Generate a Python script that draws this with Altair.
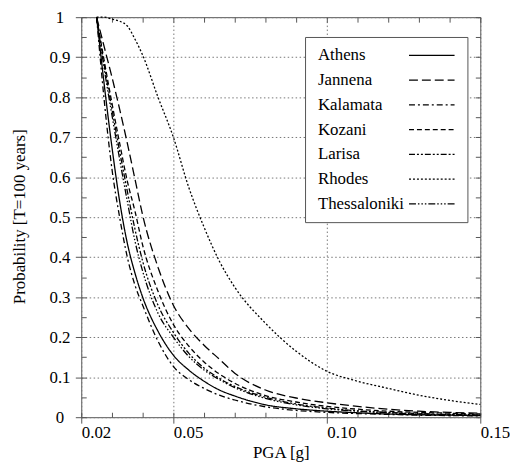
import altair as alt
import pandas as pd

# ---------------- data ----------------
pga = [0.025, 0.0275, 0.03, 0.0325, 0.035, 0.0375, 0.04, 0.045, 0.05, 0.055,
       0.06, 0.065, 0.07, 0.08, 0.09, 0.10, 0.11, 0.12, 0.13, 0.14, 0.15]

athens = [1.0, 0.83, 0.675, 0.54, 0.435, 0.36, 0.30, 0.215, 0.155, 0.118,
          0.090, 0.068, 0.053, 0.031, 0.021, 0.015, 0.011, 0.008, 0.006, 0.005, 0.004]
jannena = [1.0, 0.925, 0.85, 0.77, 0.685, 0.595, 0.505, 0.375, 0.28, 0.222,
           0.18, 0.145, 0.11, 0.068, 0.048, 0.036, 0.027, 0.020, 0.015, 0.012, 0.010]
kalamata = [1.0, 0.79, 0.62, 0.50, 0.40, 0.33, 0.28, 0.19, 0.127, 0.094,
            0.072, 0.055, 0.043, 0.026, 0.017, 0.012, 0.009, 0.007, 0.005, 0.004, 0.003]
kozani = [1.0, 0.89, 0.785, 0.685, 0.59, 0.515, 0.43, 0.315, 0.232, 0.178,
          0.138, 0.108, 0.085, 0.054, 0.038, 0.027, 0.020, 0.015, 0.012, 0.010, 0.008]
larisa = [1.0, 0.88, 0.77, 0.665, 0.565, 0.47, 0.39, 0.28, 0.212, 0.16,
          0.123, 0.097, 0.077, 0.050, 0.033, 0.023, 0.016, 0.012, 0.009, 0.007, 0.006]
rhodes = [1.0, 1.0, 0.995, 0.99, 0.978, 0.945, 0.905, 0.80, 0.70, 0.575,
          0.475, 0.39, 0.325, 0.235, 0.165, 0.115, 0.09, 0.072, 0.055, 0.042, 0.032]
thessaloniki = [1.0, 0.87, 0.755, 0.645, 0.54, 0.44, 0.365, 0.26, 0.20, 0.152,
                0.118, 0.094, 0.074, 0.047, 0.031, 0.021, 0.015, 0.011, 0.008, 0.006, 0.005]

cities = ["Athens", "Jannena", "Kalamata", "Kozani", "Larisa", "Rhodes", "Thessaloniki"]
series = [athens, jannena, kalamata, kozani, larisa, rhodes, thessaloniki]
dashes = [[1, 0], [9, 4], [6, 3, 2, 3], [5, 3], [6, 2, 2, 2, 2, 2], [2, 2],
          [7, 2, 1.5, 2, 1.5, 2, 1.5, 2]]

x_major = [0.02, 0.05, 0.10, 0.15]
x_minor = [0.02, 0.03, 0.04, 0.05, 0.06, 0.07, 0.08, 0.09, 0.10, 0.11, 0.12, 0.13, 0.14, 0.15]
y_major = [0, 0.1, 0.2, 0.3, 0.4, 0.5, 0.6, 0.7, 0.8, 0.9, 1]
y_minor = [0, 0.05, 0.1, 0.15, 0.2, 0.25, 0.3, 0.35, 0.4, 0.45, 0.5, 0.55, 0.6,
           0.65, 0.7, 0.75, 0.8, 0.85, 0.9, 0.95, 1]

rows = []
for c, vals in zip(cities, series):
    for x, p in zip(pga, vals):
        rows.append({"city": c, "pga": x, "prob": p})
df = pd.DataFrame(rows)

FONT = "Liberation Serif, Times New Roman, Times, DejaVu Serif, serif"
xscale = alt.Scale(domain=[0.02, 0.15], nice=False, zero=False)
yscale = alt.Scale(domain=[0, 1], nice=False)

base = alt.Chart(df)

lines = base.mark_line(color="black", strokeWidth=1.3, interpolate="monotone").encode(
    x=alt.X("pga:Q", scale=xscale,
            axis=alt.Axis(orient="bottom", values=x_major, format=".2f", title="PGA [g]",
                          grid=True, gridDash=[1.5, 2.5], gridColor="#777", gridWidth=1,
                          ticks=True, tickSize=6, domain=False, labelAlign="left",
                          labelPadding=2, titlePadding=4, labelFlush=False)),
    y=alt.Y("prob:Q", scale=yscale,
            axis=alt.Axis(orient="left", values=y_major, format=".1~f",
                          title="Probability [T=100 years]",
                          grid=True, gridDash=[1.5, 2.5], gridColor="#777", gridWidth=1,
                          ticks=True, tickSize=6, domain=False, labelAlign="center",
                          labelPadding=16, titleX=-53, titleY=201)),
    strokeDash=alt.StrokeDash(
        "city:N", scale=alt.Scale(domain=cities, range=dashes),
        legend=alt.Legend(title=None, orient="none", legendX=226, legendY=20,
                          direction="vertical", symbolType="M14.36,0H20.93", symbolSize=196,
                          symbolStrokeWidth=1.3, symbolStrokeColor="black",
                          symbolOffset=-14, labelOffset=0, labelFont=FONT,
                          labelFontSize=17, labelColor="black", labelLimit=300,
                          rowPadding=7, padding=10, strokeColor="#555",
                          fillColor="white")),
)

minor_axis = dict(labels=False, domain=False, grid=False, title=None, ticks=True,
                  tickSize=5, offset=-5, tickColor="#555")

ticks_a = base.mark_point(opacity=0).encode(
    x=alt.X("pga:Q", scale=xscale, axis=alt.Axis(orient="bottom", values=x_minor, **minor_axis)),
    y=alt.Y("prob:Q", scale=yscale, axis=alt.Axis(orient="left", values=y_minor, **minor_axis)),
)
ticks_b = base.mark_point(opacity=0).encode(
    x=alt.X("pga:Q", scale=xscale, axis=alt.Axis(orient="top", values=x_minor, **minor_axis)),
    y=alt.Y("prob:Q", scale=yscale, axis=alt.Axis(orient="right", values=y_minor, **minor_axis)),
)

chart = alt.layer(lines, ticks_a, ticks_b).resolve_axis(
    x="independent", y="independent"
).properties(
    width=403, height=404,
    autosize=alt.AutoSizeParams(type="none"),
    padding={"left": 74, "top": 7, "right": 30, "bottom": 45},
).configure_view(
    stroke="#555", strokeWidth=1
).configure_axis(
    labelFont=FONT, labelFontSize=17, labelColor="black",
    titleFont=FONT, titleFontSize=17, titleFontWeight="normal", titleColor="black",
    tickColor="#555"
)

chart.save("out.html", embed_options={"renderer": "svg", "actions": False})
